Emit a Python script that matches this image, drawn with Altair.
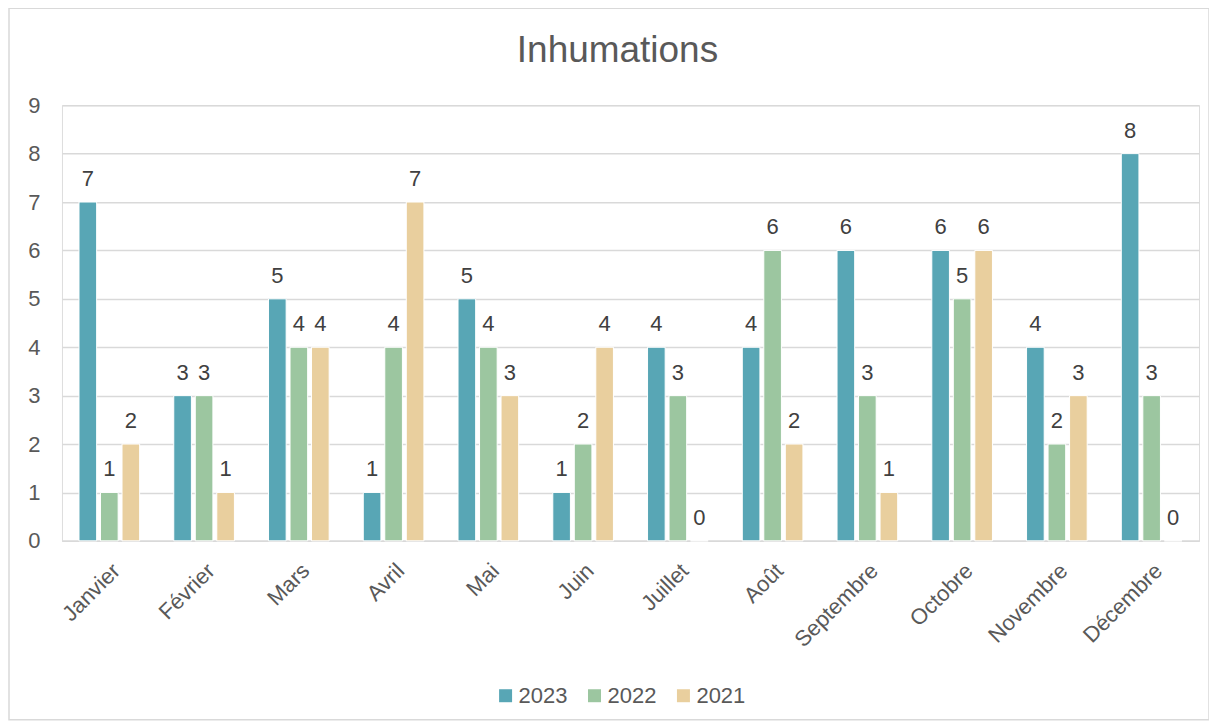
import altair as alt
import pandas as pd

months = ["Janvier", "Février", "Mars", "Avril", "Mai", "Juin", "Juillet",
          "Août", "Septembre", "Octobre", "Novembre", "Décembre"]
years = ["2023", "2022", "2021"]
v2023 = [7, 3, 5, 1, 5, 1, 4, 4, 6, 6, 4, 8]
v2022 = [1, 3, 4, 4, 4, 2, 3, 6, 3, 5, 2, 3]
v2021 = [2, 1, 4, 7, 3, 4, 0, 2, 1, 6, 3, 0]
colors = ["#58A6B5", "#9CC6A0", "#E9CF9E"]
title_text = "Inhumations"

rows = []
for y, vals in zip(years, [v2023, v2022, v2021]):
    for m, v in zip(months, vals):
        rows.append({"Mois": m, "Année": y, "Valeur": v})
df = pd.DataFrame(rows)

FONT = "Liberation Sans"
FS = 22

x = alt.X("Mois:N", sort=months, title=None,
          scale=alt.Scale(paddingInner=0.36, paddingOuter=0.18),
          axis=alt.Axis(labelAngle=-45, labelFontSize=FS, labelColor="#595959",
                        labelFont=FONT, ticks=False, domainColor="#D9D9D9",
                        domainWidth=1.5, labelPadding=19, grid=False))
xo = alt.XOffset("Année:N", sort=years, scale=alt.Scale(paddingInner=0.18))

base = alt.Chart(df)

bars = base.mark_bar(stroke="white", strokeWidth=1).encode(
    x=x, xOffset=xo,
    y=alt.Y("Valeur:Q", title=None,
            scale=alt.Scale(domain=[0, 9]),
            axis=alt.Axis(values=list(range(10)), labelFontSize=FS, labelColor="#595959",
                          labelFont=FONT, ticks=False, domain=False, gridColor="#D9D9D9",
                          gridWidth=1.5, labelPadding=22)),
    color=alt.Color("Année:N", sort=years,
                    scale=alt.Scale(domain=years, range=colors),
                    legend=alt.Legend(title=None, orient="none", direction="horizontal",
                                      legendX=433, legendY=580, symbolType="square",
                                      symbolSize=169, symbolStrokeWidth=0,
                                      labelFontSize=22, labelColor="#595959",
                                      labelFont=FONT, columnPadding=16, symbolOpacity=1,
                                      labelOffset=2)),
)

labels = base.mark_text(dy=-23, fontSize=FS, color="#404040", font=FONT).encode(
    x=x, xOffset=xo,
    y=alt.Y("Valeur:Q"),
    text=alt.Text("Valeur:Q"),
)

border = alt.Chart(pd.DataFrame({"a": [0]})).mark_rect(
    fill=None, stroke="#D9D9D9", strokeWidth=1.5).encode(
    x=alt.value(-53), x2=alt.value(1148), y=alt.value(-97), y2=alt.value(615))

title = alt.Chart(pd.DataFrame({"t": [title_text]})).mark_text(
    fontSize=37, font=FONT, color="#595959", baseline="middle", align="center").encode(
    x=alt.value(556), y=alt.value(-54), text="t:N")

chart = alt.layer(border, bars, labels, title).properties(
    width=1138, height=436,
    autosize=alt.AutoSizeParams(type="none"),
    padding={"left": 54, "top": 97, "right": 10, "bottom": 180},
).configure_view(stroke=None).configure(background="white")

chart.save("out.html", embed_options={"renderer": "svg", "actions": False})
